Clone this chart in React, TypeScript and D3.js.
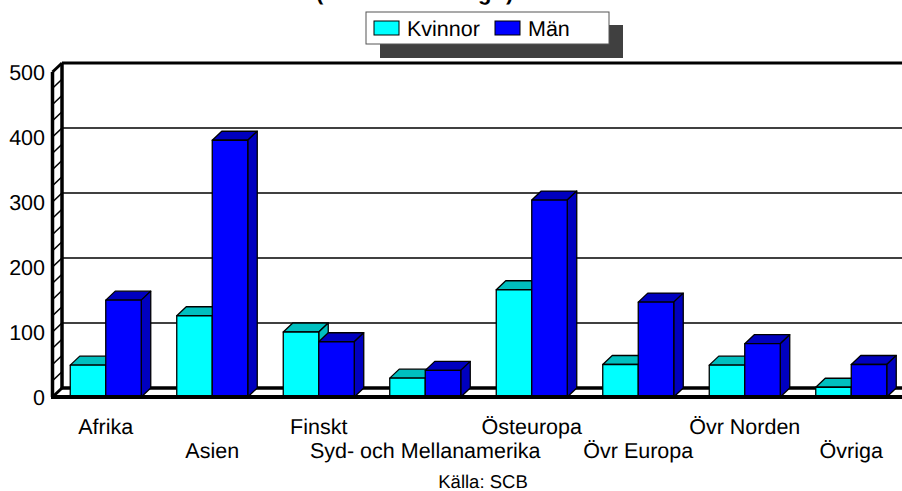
import React, { useRef, useEffect } from "react";
import * as d3 from "d3";

const categories = ["Afrika", "Asien", "Finskt", "Syd- och Mellanamerika", "Östeuropa", "Övr Europa", "Övr Norden", "Övriga"];
const kvinnor = [49, 125, 100, 29, 165, 50, 49, 15];
const man = [149, 395, 85, 41, 303, 146, 82, 50];
const seriesNames = ["Kvinnor", "Män"];
const yTicks = [0, 100, 200, 300, 400, 500];
const source = "Källa: SCB";

const frontColors = ["#00ffff", "#0000ff"];
const shadeColors = ["#00bfbf", "#0000bf"];

const width = 902;
const height = 491;
const font = "Arial, 'Liberation Sans', sans-serif";

const App = () => {
  const container = useRef<SVGSVGElement>(null);

  useEffect(() => {
    const svg = d3.select(container.current);
    svg.selectAll("*").remove();

    // 3d offset between front plane and back wall
    const dx = 9.5;
    const dy = 9;
    const left = 52.5;
    const floorY = 397;

    const xScale = d3
      .scaleBand()
      .domain(categories)
      .range([left, left + 106.5 * 8])
      .paddingInner(1 / 3)
      .paddingOuter(1 / 6);

    const subScale = d3.scaleBand().domain(seriesNames).range([0, xScale.bandwidth()]);

    const yScale = d3.scaleLinear().domain([0, 500]).range([floorY, 72]);

    // title is cut off by the top edge, only the descenders can be read
    const title = svg
      .append("text")
      .attr("y", 0)
      .style("font-family", font)
      .style("font-size", "22px")
      .style("font-weight", "bold");
    [["(", 316], ["g", 478], [")", 506]].forEach(([t, x]) => {
      title.append("tspan").attr("x", x).text(t);
    });

    // grid lines on the back wall
    svg
      .append("g")
      .selectAll("line")
      .data(yTicks.slice(1))
      .enter()
      .append("line")
      .attr("x1", left + dx)
      .attr("x2", width)
      .attr("y1", d => yScale(d) - dy)
      .attr("y2", d => yScale(d) - dy)
      .attr("stroke", "#000")
      .attr("stroke-width", d => (d === 500 ? 3 : 1.6));

    // back edge of the floor
    svg
      .append("line")
      .attr("x1", left + dx)
      .attr("x2", width)
      .attr("y1", floorY - dy)
      .attr("y2", floorY - dy)
      .attr("stroke", "#000")
      .attr("stroke-width", 3.5);

    // hatched side wall, one rung every 25 units
    const wall = svg.append("g").attr("stroke", "#000").attr("fill", "none");
    wall
      .selectAll("line")
      .data(d3.range(0, 501, 25))
      .enter()
      .append("line")
      .attr("x1", left)
      .attr("x2", left + dx)
      .attr("y1", d => yScale(d))
      .attr("y2", d => yScale(d) - dy)
      .attr("stroke-width", d => (d === 0 || d === 500 ? 3 : 1.6));
    wall
      .append("line")
      .attr("x1", left)
      .attr("x2", left)
      .attr("y1", yScale(500))
      .attr("y2", floorY)
      .attr("stroke-width", 3.5);
    wall
      .append("line")
      .attr("x1", left + dx)
      .attr("x2", left + dx)
      .attr("y1", yScale(500) - dy)
      .attr("y2", floorY - dy)
      .attr("stroke-width", 3.5);

    // bars, one group per category so the men bar covers the side of the women bar
    const groups = svg
      .append("g")
      .selectAll("g")
      .data(categories)
      .enter()
      .append("g")
      .attr("transform", d => `translate(${xScale(d)},0)`);

    [kvinnor, man].forEach((values, s) => {
      const name = seriesNames[s];
      const bw = subScale.bandwidth();
      const bars = groups
        .append("g")
        .attr("stroke", "#000")
        .attr("stroke-width", 1.3)
        .attr("stroke-linejoin", "round");
      const x0 = subScale(name) as number;
      const top = (i: number) => yScale(values[i]);

      bars
        .append("path")
        .attr("fill", shadeColors[s])
        .attr("d", (_, i) => `M${x0},${top(i)}l${dx},${-dy}h${bw}l${-dx},${dy}z`);
      bars
        .append("path")
        .attr("fill", shadeColors[s])
        .attr("d", (_, i) => `M${x0 + bw},${top(i)}l${dx},${-dy}V${floorY - dy}l${-dx},${dy}z`);
      bars
        .append("rect")
        .attr("x", x0)
        .attr("y", (_, i) => top(i))
        .attr("width", bw)
        .attr("height", (_, i) => floorY - top(i))
        .attr("fill", frontColors[s]);
    });

    // front edge of the floor
    svg
      .append("line")
      .attr("x1", left - 1.5)
      .attr("x2", width)
      .attr("y1", floorY)
      .attr("y2", floorY)
      .attr("stroke", "#000")
      .attr("stroke-width", 4);

    // y axis labels
    const yAxis = svg
      .append("g")
      .attr("transform", `translate(${left - 7.5},1)`)
      .call(d3.axisLeft(yScale).tickValues(yTicks).tickSize(0).tickPadding(0));
    yAxis.select(".domain").remove();
    yAxis
      .selectAll("text")
      .style("font-family", font)
      .style("font-size", "21.5px")
      .attr("fill", "#000");

    // category labels, staggered on two rows
    svg
      .append("g")
      .selectAll("text")
      .data(categories)
      .enter()
      .append("text")
      .attr("x", d => (xScale(d) as number) + xScale.bandwidth() / 2)
      .attr("y", (d, i) => (i % 2 === 0 ? 434 : 458))
      .attr("text-anchor", "middle")
      .style("font-family", font)
      .style("font-size", "21.5px")
      .text(d => d);

    svg
      .append("text")
      .attr("x", 483)
      .attr("y", 488)
      .attr("text-anchor", "middle")
      .style("font-family", font)
      .style("font-size", "18.5px")
      .text(source);

    // legend
    const legend = svg.append("g");
    legend.append("rect").attr("x", 380).attr("y", 25).attr("width", 243).attr("height", 33).attr("fill", "#404040");
    legend
      .append("rect")
      .attr("x", 366)
      .attr("y", 12)
      .attr("width", 243)
      .attr("height", 32)
      .attr("fill", "#fff")
      .attr("stroke", "#555")
      .attr("stroke-width", 1);

    const legendX = d3.scaleOrdinal<string, number>().domain(seriesNames).range([374, 495]);
    legend
      .selectAll("rect.swatch")
      .data(seriesNames)
      .enter()
      .append("rect")
      .attr("class", "swatch")
      .attr("x", d => legendX(d))
      .attr("y", 21)
      .attr("width", 25)
      .attr("height", 14)
      .attr("fill", (d, i) => frontColors[i])
      .attr("stroke", "#000");
    legend
      .selectAll("text")
      .data(seriesNames)
      .enter()
      .append("text")
      .attr("x", d => legendX(d) + 33)
      .attr("y", 36)
      .style("font-family", font)
      .style("font-size", "21.5px")
      .text(d => d);

    svg.selectAll("text").style("text-rendering", "geometricPrecision");
  }, []);

  return (
    <svg
      ref={container}
      width={width}
      height={height}
      style={{ position: "absolute", top: 0, left: 0, background: "#fff" }}
    />
  );
};

export default App;
